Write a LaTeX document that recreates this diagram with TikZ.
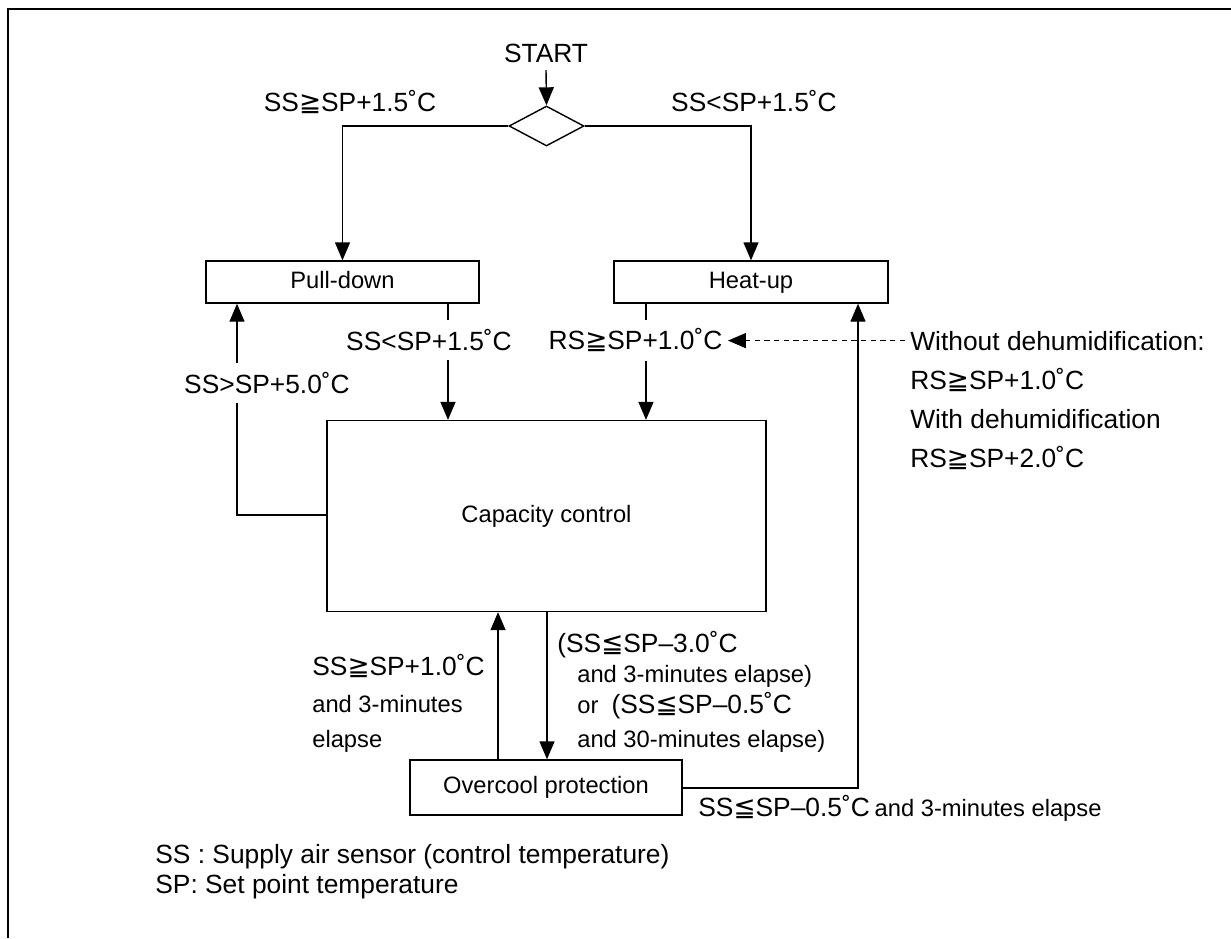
\documentclass[tikz,border=0pt]{standalone}
\usepackage{fontspec}
\setmainfont{Liberation Sans}
\newfontfamily\dv{DejaVu Sans}
\usetikzlibrary{shapes.geometric,arrows.meta}
\newcommand{\GEQQ}{{\dv ≧}}
\newcommand{\LEQQ}{{\dv ≦}}
\tikzset{
  ln/.style={line width=0.8pt},
  arr/.style={ln,-{Triangle[length=0.36cm,width=0.3cm]}},
  dasharr/.style={ln,dash pattern=on 3pt off 2.5pt,-{Triangle[length=0.36cm,width=0.3cm]}},
  box/.style={draw,line width=0.8pt,inner sep=0pt,text height=10pt,text depth=3pt,font=\fontsize{13.5}{16}\selectfont},
  lab/.style={inner sep=0pt,font=\fontsize{15}{18}\selectfont},
  sm/.style={inner sep=0pt,font=\fontsize{13.5}{16}\selectfont},
  gaplab/.style={lab,fill=white,inner xsep=3pt,inner ysep=5pt},
}
\begin{document}
\begin{tikzpicture}[x=0.02cm,y=-0.02cm]
\useasboundingbox (0,0) rectangle (1231,938);
% frame
\draw[line width=1.1pt] (8,938) -- (8,9) -- (1231,9);

% nodes
\node[lab,anchor=base] (start) at (546,62) {START};
\node[draw,ln,diamond,inner sep=0pt,minimum width=1.5cm,minimum height=0.8cm] (dia) at (546.5,126) {};
\node[box,minimum width=5.46cm,minimum height=0.84cm] (pd) at (342.5,282) {Pull-down};
\node[box,minimum width=5.48cm,minimum height=0.84cm] (hu) at (751,282) {Heat-up};
\node[box,minimum width=8.78cm,minimum height=3.82cm] (cap) at (546.5,516) {Capacity control};
\node[box,minimum width=5.44cm,minimum height=1.1cm] (oc) at (546,787.5) {Overcool protection};

% coordinates for connector columns
\coordinate (cPD) at (448,0);
\coordinate (cHU) at (646,0);
\coordinate (cFB) at (237,515);
\coordinate (cUp) at (498,0);
\coordinate (cDn) at (547,0);
\coordinate (cHT) at (858,788);

% connectors
\draw[arr] ([yshift=-0.16cm]start.base) -- (dia.north);
\draw[arr] (dia.west) -| (pd.north);
\draw[arr] (dia.east) -| (hu.north);
\draw[arr] (pd.south -| cPD) -- (cap.north -| cPD);
\draw[arr] (hu.south -| cHU) -- (cap.north -| cHU);
\draw[arr] (cap.west |- cFB) -| (pd.south -| cFB);
\draw[arr] (oc.north -| cUp) -- (cap.south -| cUp);
\draw[arr] (cap.south -| cDn) -- (oc.north -| cDn);
\draw[arr] (oc.east |- cHT) -| (hu.south -| cHT);

% top labels
\node[lab,anchor=base] (t1) at (350,111) {SS\GEQQ SP+1.5˚C};
\node[lab,anchor=base] (t2) at (754,111) {SS<SP+1.5˚C};

% gap labels on lines
\node[gaplab] (g1) at (429,340) {SS<SP+1.5˚C};
\node[gaplab] (g2) at (635.5,340) {RS\GEQQ SP+1.0˚C};
\node[gaplab] (g3) at (267,383) {SS>SP+5.0˚C};

% right block
\node[lab,anchor=base west] (wo) at (910,350) {Without dehumidification:};
\node[lab,anchor=base west] (r1) at (910,389) {RS\GEQQ SP+1.0˚C};
\node[lab,anchor=base west] (r2) at (910,428) {With dehumidification};
\node[lab,anchor=base west] (r3) at (910,467) {RS\GEQQ SP+2.0˚C};
\draw[dasharr] ([xshift=-0.1cm]wo.west) -- (wo.west -| g2.east);

% lower left labels
\node[lab,anchor=base west] (l1) at (312,675) {SS\GEQQ SP+1.0˚C};
\node[sm,anchor=base west] (l2) at (312,712) {and 3-minutes};
\node[sm,anchor=base west] (l3) at (312,747) {elapse};

% lower right labels
\node[lab,anchor=base west] (m1) at (557,652) {(SS\LEQQ SP–3.0˚C};
\node[sm,anchor=base west] (m2) at (577,682) {and 3-minutes elapse)};
\node[anchor=base west,inner sep=0pt] (m3) at (577,713) {{\fontsize{13.5}{16}\selectfont or\ \ }{\fontsize{15}{18}\selectfont (SS\LEQQ SP–0.5˚C}};
\node[sm,anchor=base west] (m4) at (577,747) {and 30-minutes elapse)};

% bottom label
\node[anchor=base west,inner sep=0pt] (b1) at (698,816) {{\fontsize{15}{18}\selectfont SS\LEQQ SP–0.5˚C} {\fontsize{13.5}{16}\selectfont and 3-minutes elapse}};

% legend
\node[lab,anchor=base west] (k1) at (155,863) {SS : Supply air sensor (control temperature)};
\node[lab,anchor=base west] (k2) at (155,893) {SP: Set point temperature};
\end{tikzpicture}
\end{document}
